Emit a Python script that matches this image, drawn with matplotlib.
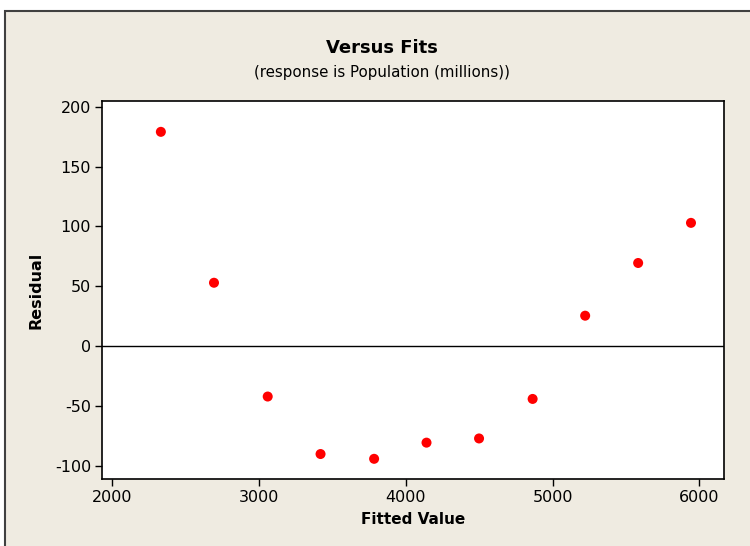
import matplotlib
matplotlib.use("Agg")
import matplotlib.pyplot as plt
from matplotlib.patches import Rectangle

fitted = [2331, 2693, 3059, 3419, 3784, 4141, 4499, 4864, 5222, 5583, 5943]
residual = [179, 53, -42, -90, -94, -80.5, -77, -44, 25.5, 69.5, 103]

xticks = [2000, 3000, 4000, 5000, 6000]
yticks = [-100, -50, 0, 50, 100, 150, 200]

plt.rcParams['font.family'] = ['DejaVu Sans']
plt.rcParams['axes.unicode_minus'] = False

fig = plt.figure(figsize=(7.5, 5.46), dpi=100)
fig.patch.set_facecolor('white')
bg = Rectangle((5/750, -0.1), 1.2, 0.1 + (1 - 11/546), transform=fig.transFigure,
               facecolor='#EFEBE1', edgecolor='#404040', linewidth=1.5, zorder=-10)
fig.patches.append(bg)

ax = fig.add_axes([102.3/750, 1 - 478.7/546, (724.3-102.3)/750, (478.7-101.3)/546])
ax.set_facecolor('white')
ax.scatter(fitted, residual, s=52, color='#FF0000', edgecolors='none', zorder=3)
ax.axhline(0, color='black', linewidth=1, zorder=2)

ax.set_xlim(1932, 6170)
ax.set_ylim(-110.6, 204.5)
ax.set_xticks(xticks)
ax.set_yticks(yticks)
ax.tick_params(direction='out', length=5, width=1, labelsize=11.5, colors='black', pad=3)
for s in ax.spines.values():
    s.set_linewidth(1.2)
    s.set_color('black')

ax.set_xlabel('Fitted Value', fontsize=11, fontweight='bold', labelpad=5)
ax.set_ylabel('Residual', fontsize=11.5, fontweight='bold', labelpad=8)

fig.text(382/750, 1 - 48/546, 'Versus Fits', fontsize=13, fontweight='bold',
         ha='center', va='center')
fig.text(382/750, 1 - 73/546, '(response is Population (millions))', fontsize=10.8,
         ha='center', va='center')

fig.savefig('out.png', dpi=100, facecolor=fig.get_facecolor())
